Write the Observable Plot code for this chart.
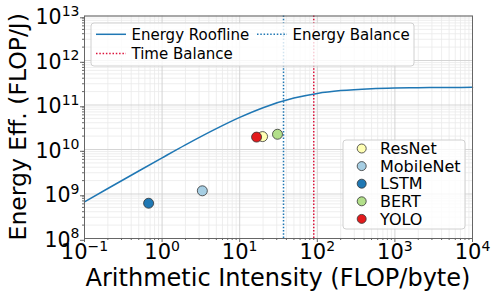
<!DOCTYPE html>
<html>
<head>
<meta charset="utf-8">
<script src="https://cdn.jsdelivr.net/npm/d3@7"></script>
<script src="https://cdn.jsdelivr.net/npm/@observablehq/plot@0.6"></script>
<style>
  html, body { margin: 0; padding: 0; background: #fff; }
  #chart svg { display: block; }
</style>
</head>
<body>
<div id="chart"></div>
<script>
// ---- Data ----
const models = ["ResNet", "MobileNet", "LSTM", "BERT", "YOLO"];
const intensity = [19.7, 3.3, 0.67, 30.7, 16.5];          // FLOP/byte
const efficiency = [1.95e10, 1.18e9, 6.2e8, 2.2e10, 1.9e10]; // FLOP/J
const modelColors = ["#ffffb3", "#a6cee3", "#1f78b4", "#b2df8a", "#e31a1c"];

// Energy roofline curve
const rooflineX = [0.1, 0.2, 0.5, 1, 2, 5, 10, 20, 50, 100, 200, 500, 1000, 2000, 5000, 10000];
const rooflineY = [6.65e8, 1.33e9, 3.29e9, 6.49e9, 1.27e10, 2.94e10, 5.26e10, 8.7e10, 1.43e11, 1.82e11, 2.11e11, 2.33e11, 2.41e11, 2.45e11, 2.48e11, 2.49e11];

const energyBalance = [36.7];
const timeBalance = [90];

// Tick values
const xMajor = [0.1, 1, 10, 100, 1000, 10000];
const xMajorLabels = ["10^−1", "10^0", "10^1", "10^2", "10^3", "10^4"];
const yMajor = [1e8, 1e9, 1e10, 1e11, 1e12, 1e13];
const yMajorLabels = ["10^8", "10^9", "10^10", "10^11", "10^12", "10^13"];

const xLabel = "Arithmetic Intensity (FLOP/byte)";
const yLabel = "Energy Eff. (FLOP/J)";

const legendLines = [
  {label: "Energy Roofline", color: "#1f77b4", dash: null},
  {label: "Energy Balance", color: "#1f77b4", dash: "1.5,1.8"},
  {label: "Time Balance", color: "#dc143c", dash: "1.5,1.8"}
];

// ---- Derived tables ----
const curve = rooflineX.map((x, i) => ({x, y: rooflineY[i]}));
const points = models.map((m, i) => ({name: m, x: intensity[i], y: efficiency[i], color: modelColors[i]}));
const minorTicks = (lo, hi) => {
  const out = [];
  for (let e = lo; e < hi; e++) for (let k = 2; k <= 9; k++) out.push(k * Math.pow(10, e));
  return out;
};
const xMinor = minorTicks(-1, 4);
const yMinor = minorTicks(8, 13);

const font = "DejaVu Sans, sans-serif";
const axisColor = "#666";

const chart = Plot.plot({
  width: 498,
  height: 299,
  marginLeft: 84,
  marginRight: 26,
  marginTop: 15.5,
  marginBottom: 61,
  style: {fontFamily: font, background: "white", color: "#000"},
  x: {type: "log", domain: [0.1, 10000], label: null},
  y: {type: "log", domain: [1e8, 1e13], label: null},
  marks: [
    Plot.gridX(xMinor, {stroke: "#eaeaea", strokeOpacity: 1, strokeWidth: 0.8}),
    Plot.gridY(yMinor, {stroke: "#eaeaea", strokeOpacity: 1, strokeWidth: 0.8}),
    Plot.gridX(xMajor, {stroke: "#d0d0d0", strokeOpacity: 1, strokeWidth: 0.9}),
    Plot.gridY(yMajor, {stroke: "#d0d0d0", strokeOpacity: 1, strokeWidth: 0.9}),
    Plot.ruleX(energyBalance, {stroke: "#1f77b4", strokeWidth: 1.5, strokeDasharray: "1.5,1.8"}),
    Plot.ruleX(timeBalance, {stroke: "#dc143c", strokeWidth: 1.5, strokeDasharray: "1.5,1.8"}),
    Plot.line(curve, {x: "x", y: "y", stroke: "#1f77b4", strokeWidth: 1.5, curve: "monotone-x"}),
    Plot.dot(points, {x: "x", y: "y", fill: "color", stroke: "#333", strokeWidth: 0.8, r: 5}),
    Plot.frame({stroke: axisColor, strokeWidth: 1}),
    Plot.axisX(xMinor, {tickSize: 2, tickFormat: () => "", stroke: axisColor, label: null}),
    Plot.axisY(yMinor, {tickSize: 2, tickFormat: () => "", stroke: axisColor, label: null}),
    Plot.axisX(xMajor, {tickSize: 4, tickPadding: 2, stroke: axisColor, fill: "#000", fontSize: 21,
      tickFormat: (d) => xMajorLabels[xMajor.indexOf(d)], label: null}),
    Plot.axisY(yMajor, {tickSize: 4, tickPadding: 1, stroke: axisColor, fill: "#000", fontSize: 20.5, dy: 1.8,
      tickFormat: (d) => yMajorLabels[yMajor.indexOf(d)], label: null})
  ]
});

document.getElementById("chart").appendChild(chart);

const svg = d3.select(chart);

// Superscript exponents on tick labels
svg.selectAll("text").each(function() {
  const t = d3.select(this);
  const s = this.textContent;
  if (s && s.includes("^")) {
    const [base, exp] = s.split("^");
    const fs = parseFloat(getComputedStyle(this).fontSize) || 20;
    t.text(null);
    t.append("tspan").text(base);
    t.append("tspan").attr("font-size", Math.round(fs * 0.68)).attr("dy", -fs * 0.42).text(exp);
  }
});

// Axis titles
svg.append("text")
  .attr("x", (84 + 472) / 2).attr("y", 286)
  .attr("text-anchor", "middle")
  .attr("font-family", font).attr("font-size", 24).attr("fill", "#000")
  .text(xLabel);
svg.append("text")
  .attr("transform", `translate(26,${(15.5 + 238) / 2}) rotate(-90)`)
  .attr("text-anchor", "middle")
  .attr("font-family", font).attr("font-size", 23.5).attr("fill", "#000")
  .text(yLabel);

// Legend 1 (lines)
const lg1 = svg.append("g").attr("font-family", font).attr("font-size", 15).attr("text-anchor", "start");
lg1.append("rect").attr("x", 91).attr("y", 23).attr("width", 323).attr("height", 43)
  .attr("rx", 3).attr("fill", "white").attr("fill-opacity", 0.8).attr("stroke", "#d0d0d0");
const lg1Pos = [{x: 96, y: 34.3}, {x: 257, y: 34.3}, {x: 96, y: 53.5}];
legendLines.forEach((d, i) => {
  const p = lg1Pos[i];
  lg1.append("line").attr("x1", p.x).attr("x2", p.x + 30).attr("y1", p.y).attr("y2", p.y)
    .attr("stroke", d.color).attr("stroke-width", 1.5).attr("stroke-dasharray", d.dash);
  lg1.append("text").attr("x", p.x + 35.5).attr("y", p.y).attr("dy", "0.36em")
    .attr("text-anchor", "start").attr("fill", "#000").text(d.label);
});

// Legend 2 (models)
const lg2 = svg.append("g").attr("font-family", font).attr("font-size", 16).attr("text-anchor", "start");
lg2.append("rect").attr("x", 343).attr("y", 140).attr("width", 122).attr("height", 89)
  .attr("rx", 3).attr("fill", "white").attr("fill-opacity", 0.8).attr("stroke", "#d0d0d0");
points.forEach((d, i) => {
  const yy = 148.5 + i * 17.6;
  lg2.append("circle").attr("cx", 361.7).attr("cy", yy).attr("r", 4.5)
    .attr("fill", d.color).attr("stroke", "#333").attr("stroke-width", 0.8);
  lg2.append("text").attr("x", 380).attr("y", yy).attr("dy", "0.36em")
    .attr("text-anchor", "start").attr("fill", "#000").text(d.name);
});
</script>
</body>
</html>
